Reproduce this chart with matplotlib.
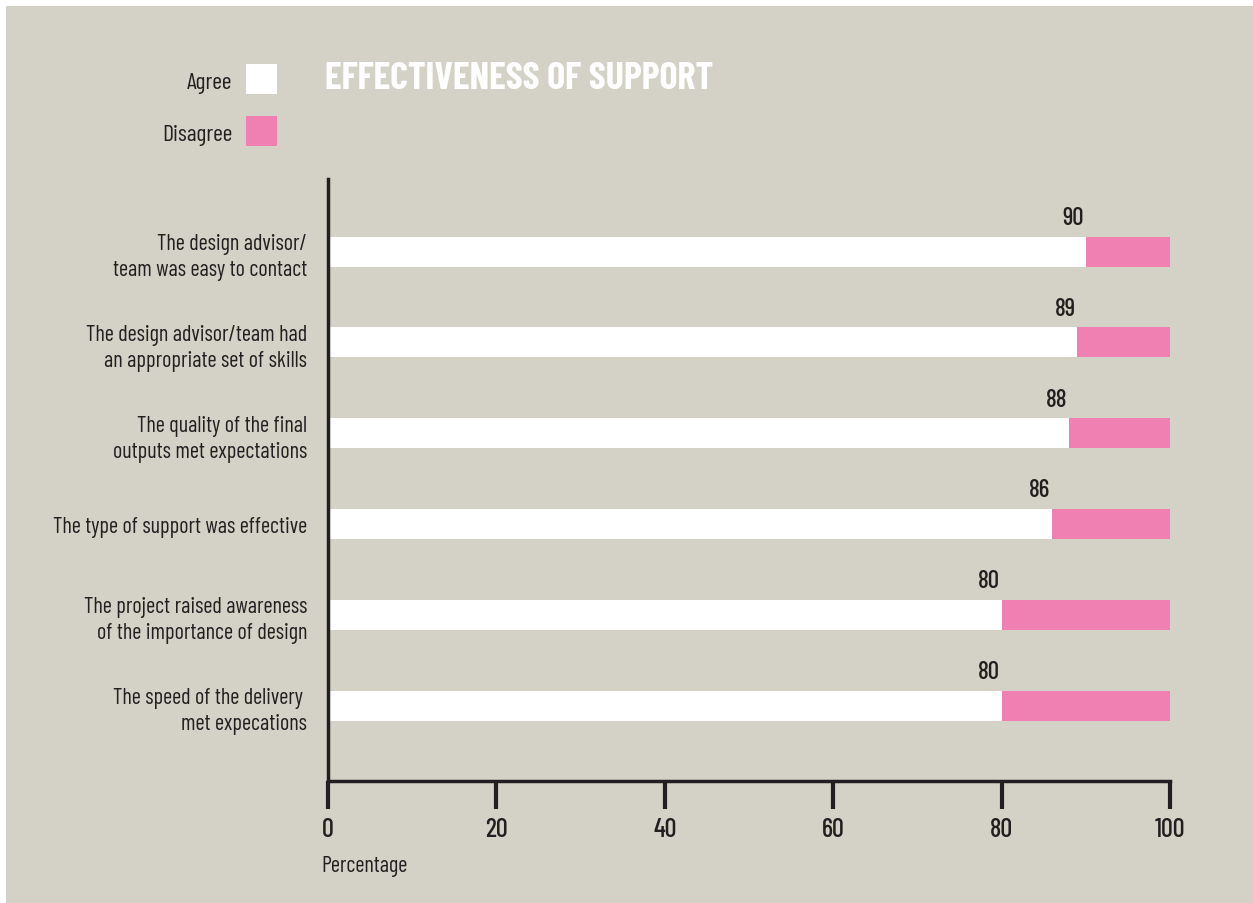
import matplotlib
matplotlib.use("Agg")
import matplotlib.pyplot as plt
from matplotlib.patches import Rectangle

categories = [
    "The design advisor/\nteam was easy to contact",
    "The design advisor/team had\nan appropriate set of skills",
    "The quality of the final\noutputs met expectations",
    "The type of support was effective",
    "The project raised awareness\nof the importance of design",
    "The speed of the delivery \nmet expecations",
]
agree = [90, 89, 88, 86, 80, 80]
disagree = [10, 11, 12, 14, 20, 20]
xticks = [0, 20, 40, 60, 80, 100]

bg = "#d4d2c6"
pink = "#ef80b1"
ink = "#231f20"
fam = "Barlow Condensed"

fig = plt.figure(figsize=(12.53, 9.04), dpi=100)
fig.patch.set_facecolor("white")
fig.patches.append(Rectangle((6 / 1253, 0), 1, 1 - 7 / 904, transform=fig.transFigure,
                             facecolor=bg, edgecolor="none", zorder=-5))

ax = fig.add_axes([328 / 1253, 1 - 782 / 904, 842 / 1253, 602 / 904])
ax.set_facecolor("none")
ax.set_zorder(2)

ypos = list(range(len(categories)))
ax.barh(ypos, agree, height=0.33, color="white", edgecolor="none")
ax.barh(ypos, disagree, left=agree, height=0.33, color=pink, edgecolor="none")

for y, a in zip(ypos, agree):
    ax.text(a - 0.2, y - 0.25, str(a), ha="right", va="bottom", fontsize=18,
            color=ink, family=fam, fontweight=500)

ax.set_xlim(0, 100)
ax.set_ylim(5.83, -0.80)
ax.set_xticks(xticks)
ax.set_xticklabels([str(t) for t in xticks], fontsize=19, color=ink, family=fam,
                   fontweight=500)
ax.set_yticks(ypos)
ax.set_yticklabels(categories, fontsize=16, color=ink, linespacing=1.3, family=fam)
ax.tick_params(axis="y", length=0, pad=15)
ax.tick_params(axis="x", length=20, width=3, color=ink, pad=6)
for s in ["top", "right"]:
    ax.spines[s].set_visible(False)
for s in ["left", "bottom"]:
    ax.spines[s].set_linewidth(2.5)
    ax.spines[s].set_color(ink)

fig.text(321 / 1253, 1 - 867 / 904, "Percentage", ha="left", va="center",
         fontsize=16, color=ink, family=fam)

# title and legend
fig.text(325 / 1253, 1 - 79 / 904, "EFFECTIVENESS OF SUPPORT", ha="left", va="center",
         fontsize=27.5, fontweight="bold", color="white", family=fam)
for i, (lab, col) in enumerate([("Agree", "white"), ("Disagree", pink)]):
    yc = 80 + i * 52
    fig.patches.append(Rectangle((246 / 1253, 1 - (yc + 15) / 904), 31 / 1253, 30 / 904,
                                 transform=fig.transFigure, facecolor=col,
                                 edgecolor="none", zorder=1))
    fig.text(232 / 1253, 1 - (yc + 3) / 904, lab, ha="right", va="center", fontsize=17,
             color=ink, family=fam)

fig.savefig("out.png", dpi=100, facecolor=fig.get_facecolor())
